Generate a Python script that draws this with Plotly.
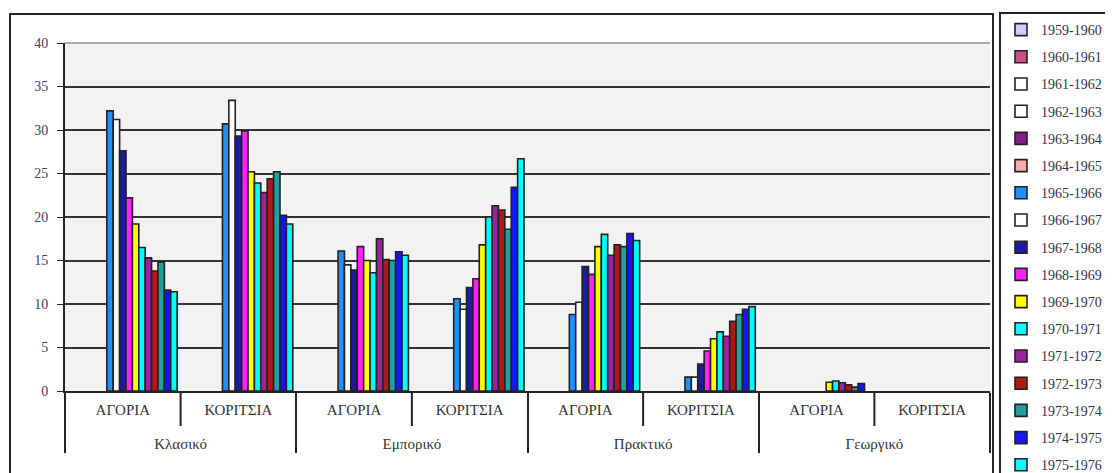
import plotly.graph_objects as go

parents = ["Κλασικό", "Κλασικό", "Εμπορικό", "Εμπορικό", "Πρακτικό", "Πρακτικό", "Γεωργικό", "Γεωργικό"]
subs = ["ΑΓΟΡΙΑ", "ΚΟΡΙΤΣΙΑ", "ΑΓΟΡΙΑ", "ΚΟΡΙΤΣΙΑ", "ΑΓΟΡΙΑ", "ΚΟΡΙΤΣΙΑ", "ΑΓΟΡΙΑ", "ΚΟΡΙΤΣΙΑ"]

years = ["1959-1960", "1960-1961", "1961-1962", "1962-1963", "1963-1964", "1964-1965",
         "1965-1966", "1966-1967", "1967-1968", "1968-1969", "1969-1970", "1970-1971",
         "1971-1972", "1972-1973", "1973-1974", "1974-1975", "1975-1976"]

colors = ["#CCCCFF", "#CC5088", "#FFFFFF", "#FFFFFF", "#8B1A8B", "#FFAAAA",
          "#1E90FF", "#FFFFFF", "#1C1C9C", "#FF20FF", "#FFFF00", "#00FFFF",
          "#A020A0", "#B01818", "#20A0A0", "#1515FF", "#00FFFF"]

N = None
v_1959_1960 = [N, N, N, N, N, N, N, N]
v_1960_1961 = [N, N, N, N, N, N, N, N]
v_1961_1962 = [N, N, N, N, N, N, N, N]
v_1962_1963 = [N, N, N, N, N, N, N, N]
v_1963_1964 = [N, N, N, N, N, N, N, N]
v_1964_1965 = [N, N, N, N, N, N, N, N]
v_1965_1966 = [32.2, 30.7, 16.1, 10.6, 8.8, 1.6, N, N]
v_1966_1967 = [31.2, 33.4, 14.5, 9.4, 10.2, 1.6, N, N]
v_1967_1968 = [27.6, 29.3, 13.9, 11.9, 14.3, 3.1, N, N]
v_1968_1969 = [22.2, 29.9, 16.6, 12.9, 13.4, 4.6, N, N]
v_1969_1970 = [19.2, 25.2, 15.0, 16.8, 16.6, 6.0, 1.0, N]
v_1970_1971 = [16.5, 23.9, 13.6, 20.0, 18.0, 6.8, 1.15, N]
v_1971_1972 = [15.3, 22.8, 17.5, 21.3, 15.6, 6.3, 0.95, N]
v_1972_1973 = [13.8, 24.4, 15.1, 20.8, 16.8, 8.0, 0.7, N]
v_1973_1974 = [14.8, 25.2, 15.0, 18.6, 16.6, 8.8, 0.45, N]
v_1974_1975 = [11.6, 20.2, 16.0, 23.4, 18.1, 9.4, 0.87, N]
v_1975_1976 = [11.4, 19.2, 15.6, 26.7, 17.3, 9.7, N, N]

series = [v_1959_1960, v_1960_1961, v_1961_1962, v_1962_1963, v_1963_1964, v_1964_1965,
          v_1965_1966, v_1966_1967, v_1967_1968, v_1968_1969, v_1969_1970, v_1970_1971,
          v_1971_1972, v_1972_1973, v_1973_1974, v_1974_1975, v_1975_1976]

y_ticks = [0, 5, 10, 15, 20, 25, 30, 35, 40]

# push the parent-level labels one line lower, as in the reference
parent_labels = ["<br>" + p for p in parents]

fig = go.Figure()
for name, col, vals in zip(years, colors, series):
    fig.add_trace(go.Bar(
        x=[parent_labels, subs], y=vals, name=name, legendgroup=name,
        marker=dict(color=col, line=dict(color="#222222", width=1.6)),
    ))

serif = "Liberation Serif"
OFF = 8  # default page body margin
PAGE_W, PAGE_H = 1113, 473
W, H = PAGE_W - OFF, PAGE_H - OFF
# plot area in page pixels: x 65..990, y 43..391
pl, pr, pt, pb = 65, 990, 43, 391
ml, mt = pl - OFF, pt - OFF
mr = W - (pr - OFF)
mb = H - (pb - OFF)
pw = pr - pl
ph = pb - pt

def px_x(p):
    return (p - pl) / pw

def px_y(p):
    return (pb - p) / ph

shapes = []
# outer chart frame
shapes.append(dict(type="rect", xref="paper", yref="paper",
                   x0=px_x(10), x1=px_x(993), y0=px_y(490), y1=px_y(14),
                   line=dict(color="#222222", width=2), layer="below"))
# lighter top border of the plot area (at the 40 gridline)
shapes.append(dict(type="line", xref="paper", yref="paper",
                   x0=0, x1=1, y0=1, y1=1,
                   line=dict(color="#AAAAAA", width=2)))
# sub-category dividers
ncat = len(subs)
for i in range(1, ncat, 2):
    shapes.append(dict(type="line", xref="paper", yref="paper",
                       x0=i / ncat, x1=i / ncat, y0=0, y1=px_y(426),
                       line=dict(color="#222222", width=2)))

fig.update_layout(
    width=W, height=H,
    margin=dict(l=ml, r=mr, t=mt, b=mb, autoexpand=False),
    paper_bgcolor="white",
    plot_bgcolor="#F2F2F2",
    barmode="group",
    bargap=0.06,
    bargroupgap=0,
    font=dict(family=serif, size=14, color="#333344"),
    showlegend=True,
    legend=dict(x=px_x(999), xanchor="left", y=px_y(12), yanchor="top",
                bordercolor="#222222", borderwidth=2, bgcolor="white",
                font=dict(family=serif, size=14, color="#333344"),
                tracegroupgap=6, itemwidth=30, maxheight=700),
    shapes=shapes,
    xaxis=dict(type="multicategory", showline=True, linecolor="#222222", linewidth=2,
               showdividers=True, dividercolor="#222222", dividerwidth=2,
               tickfont=dict(family=serif, size=15, color="#333333"),
               ticklabelstandoff=4,
               showgrid=False, ticks="", automargin=False),
    yaxis=dict(range=[0, 40], tickvals=y_ticks, showgrid=True, gridcolor="#333333",
               gridwidth=1.5, showline=True, linecolor="#222222", linewidth=2,
               ticks="outside", ticklen=6, tickcolor="#222222", zeroline=False,
               ticklabelstandoff=6, automargin=False,
               tickfont=dict(family=serif, size=14, color="#404060")),
)

fig.write_html("out.html")
